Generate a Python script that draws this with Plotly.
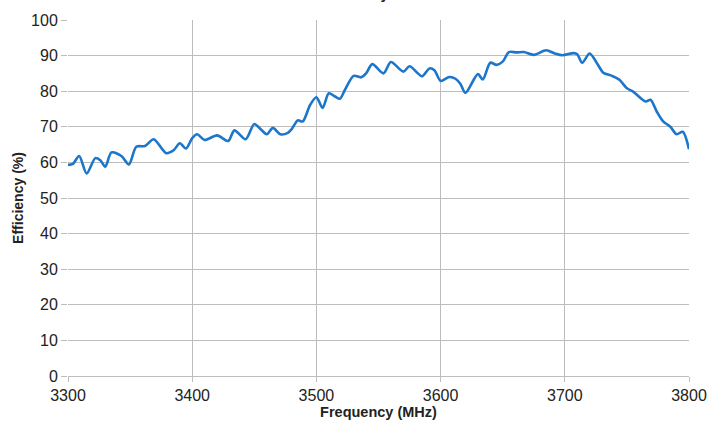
import plotly.graph_objects as go

# frequency sweep (MHz) and measured efficiency (%)
freq = [3300, 3304, 3309, 3315, 3322, 3326, 3330, 3335, 3343, 3349,
        3355, 3362, 3369, 3379, 3385, 3390, 3395, 3400, 3404, 3410,
        3420, 3429, 3434, 3443, 3450, 3456, 3460, 3465, 3471, 3477,
        3480, 3485, 3489, 3495, 3500, 3505, 3510, 3515, 3519, 3523,
        3530, 3536, 3540, 3545, 3554, 3560, 3570, 3575, 3585, 3591,
        3595, 3600, 3607, 3612, 3616, 3620, 3630, 3634, 3640, 3645,
        3650, 3655, 3661, 3667, 3675, 3685, 3692, 3698, 3707, 3710,
        3714, 3720, 3726, 3731, 3738, 3744, 3750, 3755, 3765, 3769,
        3774, 3779, 3785, 3790, 3795, 3800]
efficiency = [59.3, 59.6, 61.8, 56.9, 61.2, 60.6, 58.8, 62.8, 61.8, 59.4,
              64.4, 64.6, 66.5, 62.6, 63.4, 65.4, 63.9, 66.8, 67.9, 66.3,
              67.6, 66.0, 69.0, 66.5, 70.8, 69.0, 67.9, 69.7, 67.9, 68.3,
              69.3, 71.8, 71.5, 76.2, 78.3, 75.3, 79.4, 78.5, 77.9, 80.4,
              84.3, 83.9, 85.0, 87.6, 85.0, 88.2, 85.5, 87.0, 84.2, 86.4,
              85.9, 82.9, 84.0, 83.5, 82.0, 79.5, 84.8, 83.3, 88.0, 87.4,
              88.3, 91.0, 90.9, 91.0, 90.2, 91.5, 90.6, 90.1, 90.7, 90.4,
              88.0, 90.6, 87.8, 85.2, 84.3, 83.2, 80.8, 79.9, 77.1, 77.6,
              74.3, 71.6, 70.0, 67.9, 68.6, 63.7]

x_ticks = [3300, 3400, 3500, 3600, 3700, 3800]
y_ticks = list(range(0, 101, 10))

font_family = 'Liberation Sans, Arial, sans-serif'
grid_color = '#bdbdbd'

fig = go.Figure(go.Scatter(
    x=freq,
    y=efficiency,
    mode='lines',
    line={'color': '#1c76c9', 'width': 2.6, 'shape': 'spline', 'smoothing': 0.8},
    showlegend=False
))

fig.update_layout(
    width=726,
    height=427,
    margin={'l': 68, 'r': 37, 't': 16, 'b': 51},
    paper_bgcolor='white',
    plot_bgcolor='white',
    font={'family': font_family, 'color': '#222222', 'size': 16},
    # chart title sits above the top edge, only its descender shows
    annotations=[{
        'text': '<b>Efficiency</b>',
        'xref': 'paper', 'yref': 'paper',
        'x': 0.522, 'y': 1.045,
        'xanchor': 'right', 'yanchor': 'bottom',
        'showarrow': False,
        'font': {'size': 15, 'color': '#222222'}
    }]
)

fig.update_xaxes(
    range=[3300, 3800],
    tickvals=x_ticks,
    showgrid=True,
    gridcolor=grid_color,
    gridwidth=1,
    showline=True,
    linecolor=grid_color,
    ticks='outside',
    ticklen=5,
    tickcolor=grid_color,
    zeroline=False,
    title={'text': '<b>Frequency (MHz)</b>', 'font': {'size': 14.5}, 'standoff': 1}
)

fig.update_yaxes(
    range=[0, 100],
    tickvals=y_ticks,
    showgrid=True,
    gridcolor=grid_color,
    gridwidth=1,
    showline=False,
    ticks='outside',
    ticklen=6,
    tickcolor=grid_color,
    zeroline=False,
    title={'text': '<b>Efficiency (%)</b>', 'font': {'size': 14}, 'standoff': 4}
)

# drop the default page margin so the figure sits at the window corner
fig.write_html("out.html", config={'displayModeBar': False},
               post_script="document.body.style.margin = '0';")
